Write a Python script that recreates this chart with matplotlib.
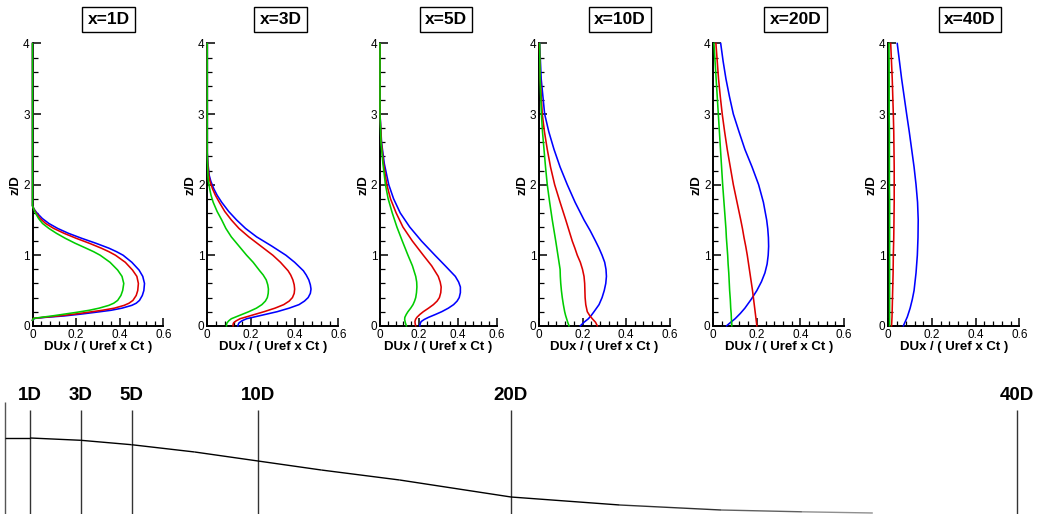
import matplotlib
matplotlib.use("Agg")
import matplotlib.pyplot as plt
from matplotlib.ticker import MultipleLocator

plt.rcParams['font.family'] = ['Liberation Sans', 'DejaVu Sans']

# ---------------- data ----------------
stations = ["x=1D", "x=3D", "x=5D", "x=10D", "x=20D", "x=40D"]

# x = 1D
z_1D = [0.08, 0.105, 0.12, 0.14, 0.165, 0.19, 0.22, 0.25, 0.29, 0.32, 0.36, 0.43, 0.5, 0.6, 0.7, 0.79,
        0.9, 1.0, 1.05, 1.1, 1.17, 1.24, 1.31, 1.38, 1.45, 1.52, 1.6, 1.65, 1.7, 4.0]
u_1D_blue = [0.0, 0.01, 0.06, 0.146, 0.22, 0.285, 0.36, 0.41, 0.455, 0.475, 0.49, 0.503, 0.51, 0.513, 0.505,
             0.488, 0.455, 0.415, 0.385, 0.35, 0.29, 0.225, 0.165, 0.115, 0.075, 0.045, 0.02, 0.008, 0.0, 0.0]
u_1D_red = [0.0, 0.005, 0.05, 0.12, 0.19, 0.25, 0.32, 0.375, 0.42, 0.442, 0.46, 0.475, 0.482, 0.485, 0.478,
            0.458, 0.425, 0.38, 0.35, 0.315, 0.26, 0.2, 0.145, 0.097, 0.06, 0.035, 0.016, 0.007, 0.0, 0.0]
u_1D_green = [0.0, 0.005, 0.04, 0.09, 0.145, 0.2, 0.26, 0.305, 0.35, 0.372, 0.39, 0.405, 0.413, 0.418, 0.41,
              0.39, 0.355, 0.31, 0.28, 0.245, 0.195, 0.15, 0.11, 0.075, 0.046, 0.028, 0.013, 0.006, 0.0, 0.0]

# x = 3D
z_3D = [0.0, 0.02, 0.04, 0.07, 0.1, 0.15, 0.2, 0.25, 0.3, 0.35, 0.4, 0.46, 0.52, 0.58, 0.65, 0.72, 0.78,
        0.9, 1.0, 1.13, 1.26, 1.38, 1.5, 1.62, 1.75, 1.85, 1.94, 2.05, 2.13, 2.3, 2.45, 4.0]
u_3D_blue = [0.14, 0.142, 0.145, 0.158, 0.18, 0.25, 0.32, 0.375, 0.42, 0.445, 0.462, 0.472, 0.475, 0.472,
             0.465, 0.453, 0.44, 0.40, 0.36, 0.295, 0.226, 0.175, 0.134, 0.098, 0.066, 0.045, 0.03, 0.016,
             0.009, 0.003, 0.0, 0.0]
u_3D_red = [0.118, 0.118, 0.12, 0.132, 0.15, 0.205, 0.26, 0.31, 0.35, 0.375, 0.39, 0.398, 0.40, 0.398,
            0.392, 0.382, 0.37, 0.335, 0.30, 0.245, 0.19, 0.145, 0.11, 0.08, 0.055, 0.037, 0.024, 0.012,
            0.007, 0.002, 0.0, 0.0]
u_3D_green = [0.088, 0.088, 0.09, 0.098, 0.11, 0.15, 0.19, 0.225, 0.25, 0.266, 0.275, 0.279, 0.28, 0.277,
              0.27, 0.256, 0.24, 0.21, 0.18, 0.145, 0.11, 0.085, 0.066, 0.045, 0.027, 0.017, 0.011, 0.005,
              0.003, 0.001, 0.0, 0.0]

# x = 5D
z_5D = [0.0, 0.03, 0.06, 0.09, 0.12, 0.16, 0.2, 0.25, 0.3, 0.35, 0.4, 0.47, 0.55, 0.62, 0.7, 0.85, 1.0,
        1.2, 1.4, 1.6, 1.8, 2.0, 2.3, 2.6, 3.0, 4.0]
u_5D_blue = [0.205, 0.207, 0.212, 0.228, 0.25, 0.285, 0.318, 0.352, 0.379, 0.397, 0.408, 0.414, 0.414,
             0.405, 0.388, 0.336, 0.283, 0.214, 0.153, 0.104, 0.07, 0.045, 0.022, 0.008, 0.0, 0.0]
u_5D_red = [0.184, 0.181, 0.18, 0.183, 0.19, 0.205, 0.223, 0.25, 0.275, 0.294, 0.306, 0.313, 0.315, 0.31,
            0.30, 0.266, 0.223, 0.167, 0.118, 0.083, 0.054, 0.035, 0.018, 0.007, 0.0, 0.0]
u_5D_green = [0.136, 0.132, 0.129, 0.127, 0.128, 0.135, 0.144, 0.158, 0.17, 0.178, 0.184, 0.188, 0.19,
              0.189, 0.184, 0.167, 0.144, 0.115, 0.087, 0.063, 0.042, 0.028, 0.015, 0.005, 0.0, 0.0]

# x = 10D
z_10D = [0.0, 0.05, 0.1, 0.15, 0.2, 0.3, 0.4, 0.5, 0.6, 0.7, 0.8, 0.9, 1.0, 1.1, 1.2, 1.35, 1.5, 1.75,
         2.0, 2.25, 2.5, 2.75, 3.0, 3.5, 4.0]
u_10D_blue = [0.19, 0.207, 0.227, 0.241, 0.253, 0.276, 0.29, 0.3, 0.307, 0.31, 0.308, 0.302, 0.29, 0.276,
              0.26, 0.235, 0.207, 0.166, 0.13, 0.097, 0.069, 0.045, 0.026, 0.01, 0.003]
u_10D_red = [0.268, 0.26, 0.245, 0.232, 0.222, 0.215, 0.212, 0.211, 0.21, 0.207, 0.2, 0.19, 0.176, 0.165,
             0.153, 0.138, 0.123, 0.097, 0.072, 0.053, 0.038, 0.025, 0.015, 0.006, 0.002]
u_10D_green = [0.138, 0.132, 0.127, 0.122, 0.118, 0.112, 0.107, 0.103, 0.1, 0.098, 0.097, 0.092, 0.087,
               0.082, 0.077, 0.069, 0.061, 0.049, 0.038, 0.03, 0.023, 0.016, 0.011, 0.005, 0.003]

# x = 20D
z_20D = [0.0, 0.05, 0.1, 0.175, 0.25, 0.375, 0.5, 0.625, 0.75, 0.875, 1.0, 1.125, 1.25, 1.375, 1.5, 1.75,
         2.0, 2.25, 2.5, 2.75, 3.0, 3.25, 3.5, 3.75, 4.0]
u_20D_blue = [0.061, 0.08, 0.1, 0.124, 0.145, 0.174, 0.2, 0.221, 0.237, 0.247, 0.252, 0.254, 0.253, 0.25,
              0.245, 0.23, 0.208, 0.178, 0.145, 0.118, 0.092, 0.074, 0.058, 0.045, 0.034]
u_20D_red = [0.2, 0.198, 0.196, 0.193, 0.19, 0.185, 0.18, 0.174, 0.168, 0.162, 0.156, 0.149, 0.141, 0.134,
             0.126, 0.109, 0.092, 0.078, 0.064, 0.052, 0.041, 0.032, 0.024, 0.018, 0.012]
u_20D_green = [0.085, 0.084, 0.083, 0.082, 0.08, 0.078, 0.075, 0.073, 0.071, 0.068, 0.066, 0.063, 0.06,
               0.058, 0.055, 0.049, 0.043, 0.038, 0.033, 0.028, 0.023, 0.018, 0.013, 0.008, 0.003]

# x = 40D
z_40D = [0.0, 0.125, 0.25, 0.375, 0.5, 0.75, 1.0, 1.25, 1.5, 1.75, 2.0, 2.25, 2.5, 2.75, 3.0, 3.5, 4.0]
u_40D_blue = [0.069, 0.087, 0.1, 0.11, 0.118, 0.127, 0.133, 0.136, 0.137, 0.134, 0.127, 0.118, 0.107,
              0.096, 0.084, 0.061, 0.041]
u_40D_red = [0.015, 0.017, 0.018, 0.019, 0.02, 0.022, 0.023, 0.025, 0.026, 0.027, 0.027, 0.027, 0.026,
             0.025, 0.023, 0.018, 0.011]
u_40D_green = [0.006, 0.006, 0.006, 0.006, 0.006, 0.006, 0.006, 0.006, 0.006, 0.006, 0.005, 0.005, 0.005,
               0.005, 0.004, 0.004, 0.003]

x_ticks = [0, 0.2, 0.4, 0.6]
x_tick_labels = ["0", "0.2", "0.4", "0.6"]
z_ticks = [0, 1, 2, 3, 4]

# wake schematic
station_D = [1, 3, 5, 10, 20, 40]
station_labels = ["1D", "3D", "5D", "10D", "20D", "40D"]
wake_D = [0, 1, 3, 5, 7.5, 10, 12.5, 15.6, 20, 24.3, 28.3, 31.5, 34.3]
wake_h = [76, 76, 73.7, 69.3, 62, 53, 44, 34, 17, 9, 4, 2.2, 1]

profiles = [
    [(z_1D, u_1D_blue), (z_1D, u_1D_red), (z_1D, u_1D_green)],
    [(z_3D, u_3D_blue), (z_3D, u_3D_red), (z_3D, u_3D_green)],
    [(z_5D, u_5D_blue), (z_5D, u_5D_red), (z_5D, u_5D_green)],
    [(z_10D, u_10D_blue), (z_10D, u_10D_red), (z_10D, u_10D_green)],
    [(z_20D, u_20D_blue), (z_20D, u_20D_red), (z_20D, u_20D_green)],
    [(z_40D, u_40D_blue), (z_40D, u_40D_red), (z_40D, u_40D_green)],
]
colors = ["#0000ff", "#dd0000", "#00cc00"]

# ---------------- layout ----------------
W, H = 1052, 514
fig = plt.figure(figsize=(W / 100, H / 100), dpi=100)

lefts = [32.5, 207.3, 380, 539, 713.3, 888.3]
widths = [131, 131, 116.5, 130.5, 130.7, 131]
top_px, bot_px = 43.5, 325.8
title_cx = [108.5, 280.5, 446, 620, 795.5, 970]
title_cy = 19.5

for i in range(6):
    ax = fig.add_axes([lefts[i] / W, 1 - bot_px / H, widths[i] / W, (bot_px - top_px) / H])
    for (z, u), c in zip(profiles[i], colors):
        ax.plot(u, z, color=c, lw=1.15, clip_on=False, zorder=3, solid_joinstyle="round")
    ax.set_xlim(0, 0.6)
    ax.set_ylim(0, 4)
    for s in ("top", "right"):
        ax.spines[s].set_visible(False)
    for s in ("left", "bottom"):
        ax.spines[s].set_linewidth(1.4)
        ax.spines[s].set_zorder(2)
    ax.set_xticks(x_ticks)
    ax.set_xticklabels(x_tick_labels)
    ax.set_yticks(z_ticks)
    ax.xaxis.set_minor_locator(MultipleLocator(0.04))
    ax.yaxis.set_minor_locator(MultipleLocator(0.2))
    ax.tick_params(which="major", direction="in", length=6, width=1.1, labelsize=8.5, pad=2)
    ax.tick_params(which="minor", direction="in", length=3.5, width=0.9)
    ax.set_facecolor("none")
    ax.set_xlabel("DUx / ( Uref x Ct )", fontsize=9.5, fontweight="bold", labelpad=0)
    ax.set_ylabel("z/D", fontsize=9.5, fontweight="bold", labelpad=1)
    fig.text(title_cx[i] / W, 1 - title_cy / H, stations[i], ha="center", va="center",
             fontsize=12.5, fontweight="bold",
             bbox=dict(boxstyle="square,pad=0.3", fc="white", ec="black", lw=1))

# wake schematic
sch_top = 380
axs = fig.add_axes([0, 0, 1, (H - sch_top) / H])
px0, scale = 5.0, 25.3
axs.set_xlim(-px0 / scale, (W - px0) / scale)
axs.set_ylim(0, H - sch_top)
axs.axis("off")
axs.vlines([0], 0, H - 402, color="#555555", lw=1)
axs.vlines(station_D, 0, H - 410, color="#333333", lw=1)
for d, lab in zip(station_D, station_labels):
    axs.text(d, H - 396, lab, ha="center", va="center", fontsize=13.5, fontweight="bold")
n = len(wake_D)
for k in range(n - 1):
    frac = max(0, k - (n - 5)) / 4
    g = 0.75 * frac
    axs.plot(wake_D[k:k + 2], wake_h[k:k + 2], color=(g, g, g), lw=1.0, solid_capstyle="butt")

fig.savefig("out.png", dpi=100)
